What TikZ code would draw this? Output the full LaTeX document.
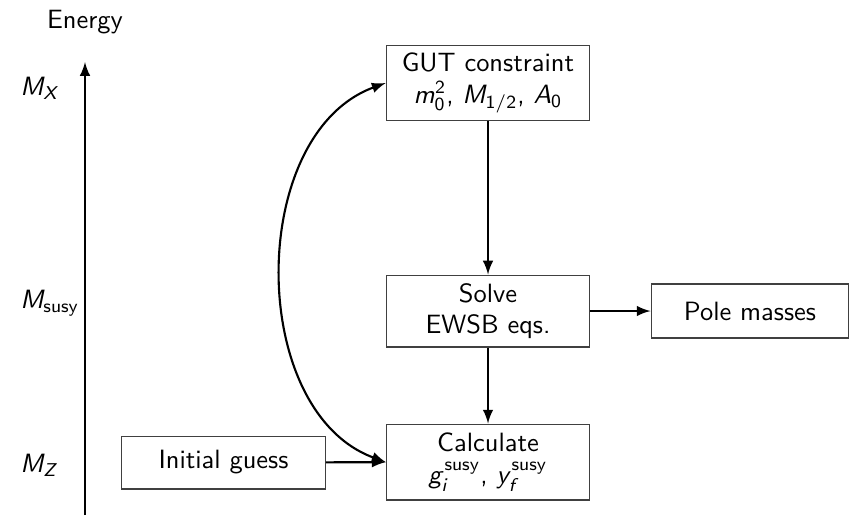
\documentclass[tikz,border=0pt]{standalone}
\DeclareMathAlphabet{\mathslsf}{OT1}{cmss}{m}{sl}

\begin{document}
\begin{tikzpicture}[x=0.378pt,y=0.378pt,
	font=\sffamily,
	box/.style={draw=black!75, align=center, minimum width=77pt, inner sep=2pt},
	flow/.style={thick,-latex}]

	\useasboundingbox (0,0) rectangle (853,515);

	% energy axis
	\coordinate (axisbot) at (85,0);
	\coordinate (axistop) at (85,453);
	\draw [flow] (axisbot) -- (axistop);
	\node (energy) at (85,493) {Energy};

	\node [anchor=west] (mx) at (11,427) {$\mathslsf{M}_{\mathslsf{X}}$};
	\node [anchor=west] (msusy) at (11,212) {$\mathslsf{M}_{\mathsf{susy}}$};
	\node [anchor=west] (mz) at (11,50) {$\mathslsf{M}_{\mathslsf{Z}}$};

	% steps
	\node [box, minimum height=28.7pt] (gut) at (488,432) {GUT constraint\\ $\mathslsf{m}_{\mathsf{0}}^{\mathsf{2}}$, $\mathslsf{M}_{\mathsf{1/2}}$, $\mathslsf{A}_{\mathsf{0}}$};
	\node [box, minimum height=27.2pt] (ewsb) at (488,204) {Solve\\ EWSB eqs.};
	\node [box, minimum height=28.7pt] (calc) at (488,53) {Calculate\\ $\mathslsf{g}_{\mathslsf{i}}^{\mathsf{susy}}$, $\mathslsf{y}_{\mathslsf{f}}^{\mathsf{susy}}$};
	\node [box, minimum height=20pt] (guess) at (223.5,52.5) {Initial guess};
	\node [box, minimum height=20.4pt, minimum width=74.8pt] (pole) at (750,204) {Pole masses};

	\draw [flow] (gut) -- (ewsb);
	\draw [flow] (ewsb) -- (calc);
	\draw [flow] (ewsb) -- (pole);
	\draw [flow] (guess) -- (calc);
	\draw [thick, latex-latex] (gut.west) to [out=200, in=160] (calc.west);

\end{tikzpicture}
\end{document}
